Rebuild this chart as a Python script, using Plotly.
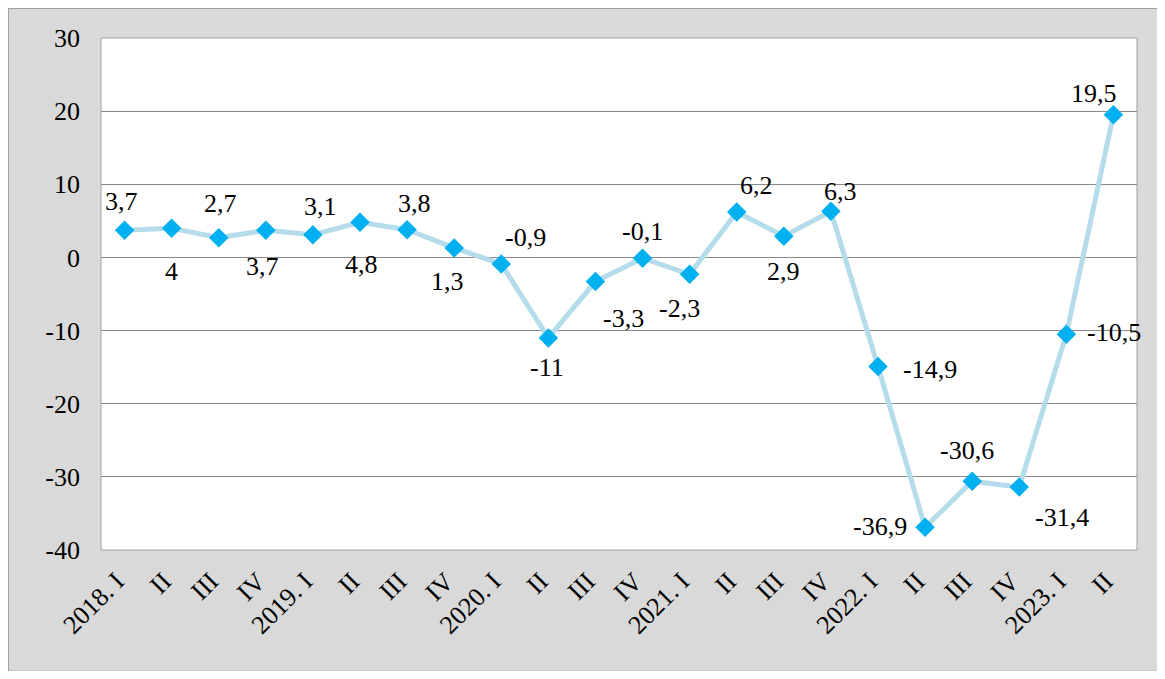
import plotly.graph_objects as go

# quarters and values
quarters = ["2018. I", "II", "III", "IV", "2019. I", "II", "III", "IV",
            "2020. I", "II", "III", "IV", "2021. I", "II", "III", "IV",
            "2022. I", "II", "III", "IV", "2023. I", "II"]
values = [3.7, 4, 2.7, 3.7, 3.1, 4.8, 3.8, 1.3, -0.9, -11, -3.3, -0.1,
          -2.3, 6.2, 2.9, 6.3, -14.9, -36.9, -30.6, -31.4, -10.5, 19.5]
y_ticks = [30, 20, 10, 0, -10, -20, -30, -40]

# label offsets in px (dx, dy), screen direction
label_dx = [-3, 0, 2, -3, 8, 1, 7, -7, 24, -1, 28, 0, -10, 20, 0, 10, 52, -45, -5, 43, 48, -19]
label_dy = [-29, 43, -34, 36, -28, 42, -26, 34, -27, 30, 37, -27, 34, -27, 35, -20, 3, -1, -31, 30, -2, -21]

x_idx = list(range(len(quarters)))
font = "Times New Roman, Liberation Serif, serif"

fig = go.Figure()
fig.add_trace(go.Scatter(
    x=x_idx, y=values, mode="lines+markers",
    line=dict(color="#b4dcea", width=5),
    marker=dict(symbol="diamond", size=15, color="#00b0f0"),
    showlegend=False, hoverinfo="skip"))

for i, v in enumerate(values):
    txt = ("%g" % v).replace(".", ",")
    fig.add_annotation(x=i, y=v, text=txt, showarrow=False,
                       xshift=label_dx[i], yshift=-label_dy[i],
                       font=dict(family=font, size=26, color="black"))

# grey outer frame and white plot area
fig.add_shape(type="rect", xref="paper", yref="paper",
              x0=-0.0898, x1=1.0222, y0=-0.238, y1=1.0586,
              fillcolor="#d9d9d9", line=dict(color="#a0a0a0", width=2), layer="below")
fig.add_shape(type="rect", xref="paper", yref="paper",
              x0=0, x1=1, y0=0, y1=1,
              fillcolor="white", line=dict(color="#a0a0a0", width=1), layer="below")

fig.update_layout(
    width=1149, height=663,
    margin=dict(l=93, r=20, t=30, b=121),
    paper_bgcolor="white", plot_bgcolor="white",
    font=dict(family=font, size=26, color="black"),
    xaxis=dict(tickmode="array", tickvals=x_idx, ticktext=quarters,
               tickangle=-45, range=[-0.5, len(quarters) - 0.5],
               showgrid=False, zeroline=False, showline=False, ticks="",
               automargin=False, ticklabelstandoff=10, ticklabelshift=-8),
    yaxis=dict(range=[-40, 30], tickmode="array", tickvals=y_ticks,
               ticktext=[str(t) for t in y_ticks],
               showgrid=True, gridcolor="#8a8a8a", gridwidth=1,
               zeroline=False, showline=False, ticks="",
               automargin=False, ticklabelstandoff=20),
)

fig.write_html("out.html")
